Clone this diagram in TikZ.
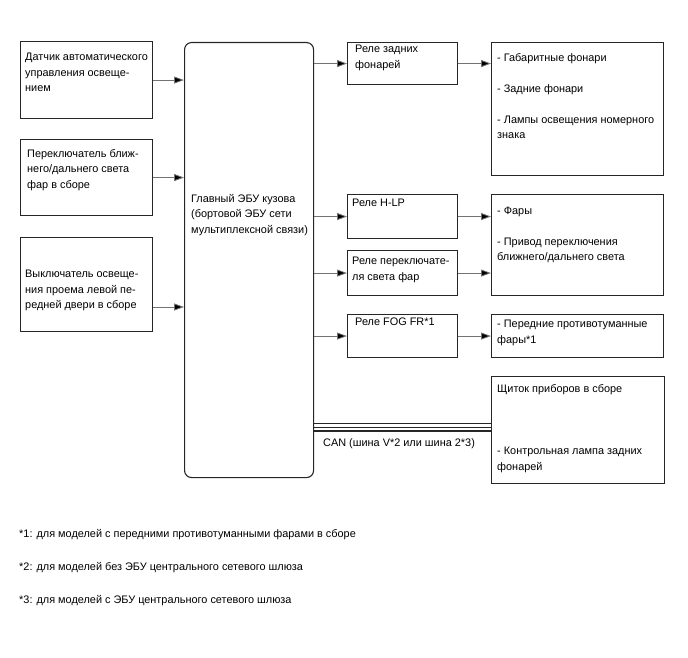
\documentclass[tikz,border=0pt]{standalone}
\usepackage{fontspec}
\setmainfont{Liberation Sans}
\usetikzlibrary{arrows.meta,positioning}

\tikzset{
  blk/.style={draw=black!85, line width=1.1pt, inner sep=0pt, anchor=north west},
  txt/.style={anchor=north west, inner sep=0pt, align=left, font=\fontsize{10.9}{15.5}\selectfont},
  conn/.style={draw=black!55, line width=0.8pt, -{Triangle[length=10pt,width=7pt,fill=black]}},
}

\begin{document}
\begin{tikzpicture}[x=1pt, y=-1pt]
			\useasboundingbox (0,0) rectangle (688,658);
			% inputs
			\node[blk, minimum width=132pt, minimum height=77pt] (sensor) at (20,41) {};
			\node[blk, minimum width=132pt, minimum height=76pt] (dimsw) at (20,139) {};
			\node[blk, minimum width=132pt, minimum height=94pt] (doorsw) at (20,237) {};
			\node[txt] at (25,53) {Датчик автоматического\\управления освеще-\\нием};
			\node[txt] at (27,149) {Переключатель ближ-\\него/дальнего света\\фар в сборе};
			\node[txt] at (25,270) {Выключатель освеще-\\ния проема левой пе-\\редней двери в сборе};
			% main ECU
			\node[blk, rounded corners=7pt, minimum width=129pt, minimum height=435pt] (ecu) at (184,42) {};
			\node[txt] at (191,194) {Главный ЭБУ кузова\\(бортовой ЭБУ сети\\мультиплексной связи)};
			% relays
			\node[blk, minimum width=110pt, minimum height=42pt] (tailrly) at (347,42) {};
			\node[blk, minimum width=110pt, minimum height=44pt] (hlprly) at (347,194) {};
			\node[blk, minimum width=110pt, minimum height=45pt] (dimrly) at (347,250) {};
			\node[blk, minimum width=110pt, minimum height=43pt] (fogrly) at (347,314) {};
			\node[txt] at (355,45) {Реле задних\\фонарей};
			\node[txt] at (352,199) {Реле H-LP};
			\node[txt] at (352,257) {Реле переключате-\\ля света фар};
			\node[txt] at (355,318) {Реле FOG FR*1};
			% loads
			\node[blk, minimum width=172pt, minimum height=133pt] (taillp) at (491,42) {};
			\node[blk, minimum width=172pt, minimum height=101pt] (headlp) at (491,194) {};
			\node[blk, minimum width=172pt, minimum height=43pt] (foglp) at (491,314) {};
			\node[blk, minimum width=173pt, minimum height=107pt] (meter) at (491,376) {};
			\node[txt] at (497,53) {- Габаритные фонари\\[16pt]- Задние фонари\\[15pt]- Лампы освещения номерного\\знака};
			\node[txt] at (497,207) {- Фары\\[15pt]- Привод переключения\\ближнего/дальнего света};
			\node[txt] at (497,320) {- Передние противотуманные\\фары*1};
			\node[txt] at (497,384) {Щиток приборов в сборе\\[47pt]- Контрольная лампа задних\\фонарей};
			% connectors
			\draw[conn] (sensor.east) -- (sensor.east -| ecu.west);
			\draw[conn] (dimsw.east) -- (dimsw.east -| ecu.west);
			\draw[conn] (doorsw.east |- 0,307) -- (ecu.west |- 0,307);
			\draw[conn] (tailrly.west -| ecu.east) -- (tailrly.west);
			\draw[conn] (hlprly.west -| ecu.east) -- (hlprly.west);
			\draw[conn] (dimrly.west -| ecu.east) -- (dimrly.west);
			\draw[conn] (fogrly.west -| ecu.east) -- (fogrly.west);
			\draw[conn] (tailrly.east) -- (tailrly.east -| taillp.west);
			\draw[conn] (hlprly.east) -- (hlprly.east -| headlp.west);
			\draw[conn] (dimrly.east) -- (dimrly.east -| headlp.west);
			\draw[conn] (fogrly.east) -- (fogrly.east -| foglp.west);
			% CAN bus
			\foreach \y in {423.5,427.3,431} {
				\draw[line width=1.1pt, black!85] (ecu.east |- 0,\y) -- (meter.west |- 0,\y);
			}
			\node[txt] (canlbl) at (323,438) {CAN (шина V*2 или шина 2*3)};
			% notes
			\node[txt] (note1) at (19,529) {*1: для моделей с передними противотуманными фарами в сборе};
			\node[txt] (note2) at (19,562) {*2: для моделей без ЭБУ центрального сетевого шлюза};
			\node[txt] (note3) at (19,595) {*3: для моделей с ЭБУ центрального сетевого шлюза};
\end{tikzpicture}
\end{document}
